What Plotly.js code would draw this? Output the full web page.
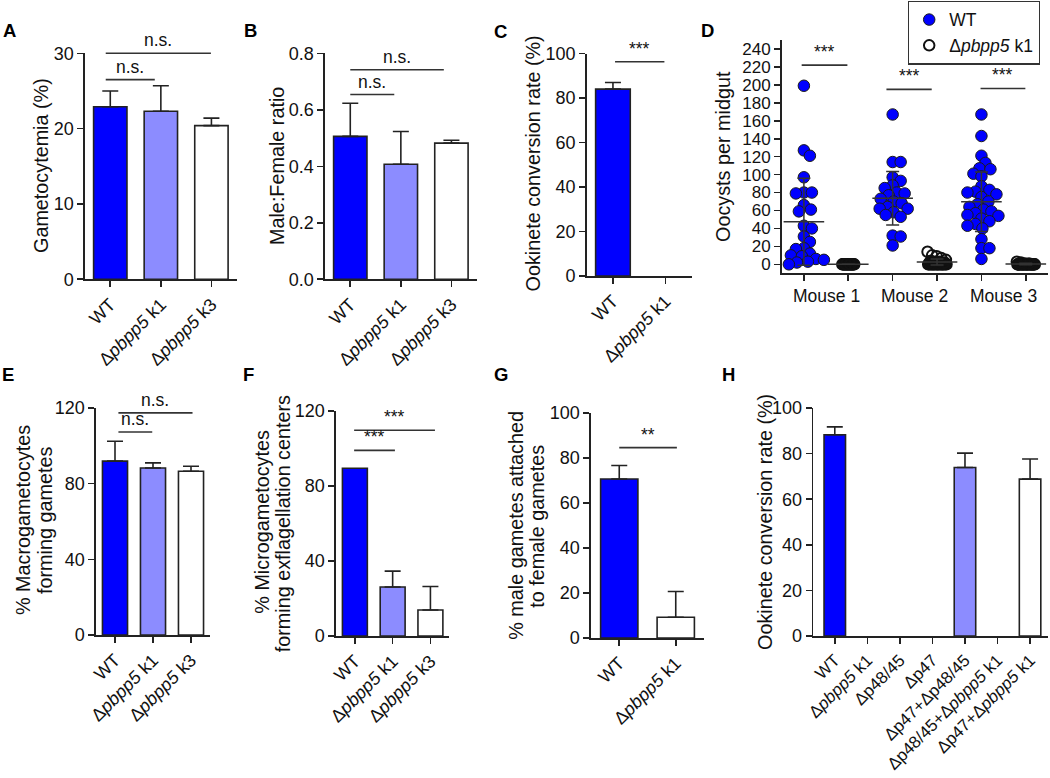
<!DOCTYPE html>
<html>
<head>
<meta charset="utf-8">
<script src="https://cdn.plot.ly/plotly-3.0.1.min.js"></script>
<style>html,body{margin:0;padding:0;background:#fff}#chart{width:1050px;height:778px}</style>
</head>
<body>
<div id="chart"></div>
<script>
// ---------------- DATA ----------------
const catsThree = ['WT', 'Δ<i>pbpp5</i> k1', 'Δ<i>pbpp5</i> k3'];
const catsTwo = ['WT', 'Δ<i>pbpp5</i> k1'];
const catsH = ['WT', 'Δ<i>pbpp5</i> k1', 'Δp48/45', 'Δp47', 'Δp47+Δp48/45', 'Δp48/45+Δ<i>pbpp5</i> k1', 'Δp47+Δ<i>pbpp5</i> k1'];

const gametocytemia = [22.9, 22.3, 20.4];
const gametocytemiaSD = [2.1, 3.4, 1.0];
const maleFemaleRatio = [0.506, 0.407, 0.482];
const maleFemaleRatioSD = [0.117, 0.116, 0.010];
const ookineteC = [84.0, 0];
const ookineteCSD = [3.0, null];
const macroForming = [91.9, 88.3, 86.6];
const macroFormingSD = [10.5, 2.7, 2.6];
const microExflag = [89.5, 26.1, 13.9];
const microExflagSD = [null, 8.5, 12.5];
const maleAttached = [70.7, 9.2];
const maleAttachedSD = [6.0, 11.5];
const ookineteH = [88.3, 0, 0, 0, 73.9, 0, 68.8];
const ookineteHSD = [3.4, null, null, null, 6.3, null, 8.8];

const mice = ['Mouse 1', 'Mouse 2', 'Mouse 3'];
const oocystWT1 = [199, 127, 121, 97, 80, 80, 79, 66, 61, 59, 43, 40, 31, 25, 18, 17, 12, 10, 9, 6, 5, 3, 2, 0, 0];
const oocystWT2 = [167, 114, 114, 97, 93, 88, 85, 80, 79, 77, 73, 70, 68, 64, 62, 62, 58, 55, 53, 32, 31, 21];
const oocystWT3 = [167, 143, 121, 113, 107, 106, 101, 98, 87, 83, 81, 80, 78, 75, 70, 67, 64, 61, 59, 57, 55, 54, 51, 48, 45, 43, 40, 28, 18, 18, 6];
const oocystKO1 = [0, 0, 0, 0, 0, 0, 0, 0, 0, 0, 0, 0, 0, 0, 0, 0, 0, 0, 0, 0];
const oocystKO2 = [14, 10, 9, 7, 5, 4, 3, 3, 2, 2, 1, 1, 1, 0, 0, 0, 0, 0, 0, 0, 0, 0, 0, 0, 0, 0, 0, 0, 0, 0];
const oocystKO3 = [3, 2, 1, 1, 0, 0, 0, 0, 0, 0, 0, 0, 0, 0, 0, 0, 0, 0, 0, 0, 0, 0, 0, 0, 0, 0, 0, 0, 0, 0, 0, 0];
const oocystMeanWT = [47.5, 73.6, 69.8];
const oocystSDWT = [48.5, 29.8, 33.2];
const oocystMeanKO = [0, 2.6, 0.3];
const oocystSDKO = [0, 3.4, 0.8];

// ---------------- STYLE / LAYOUT ----------------
const FONT = '"Liberation Sans", Arial, Helvetica, sans-serif';
const W = 1050, H = 778;
const BLUE = '#0000ff', LIGHT = '#8c8cff', WHITE = '#ffffff', INK = '#222222', TXT = '#111111';
const TICK = 18, TITLE = 19.8, LETTER = 18.5, SIGF = 17.5;
const px2x = p => p / W;
const px2y = p => 1 - p / H;

const AX = {
  showline: true, linecolor: INK, linewidth: 1.6, ticks: 'outside', ticklen: 6, tickwidth: 1.6,
  tickcolor: INK, showgrid: false, zeroline: false, automargin: false, fixedrange: true,
  tickfont: {family: FONT, size: TICK, color: TXT}
};

// panel geometry in pixels
const P = {
  A: {n: '',  x0: 85,    x1: 236.7,  yb: 279.3, yt: 53.3,  yr: [0, 30],   yt_v: [0, 10, 20, 30]},
  B: {n: '2', x0: 325,   x1: 476.7,  yb: 279.3, yt: 53.3,  yr: [0, 0.8],  yt_v: [0, 0.2, 0.4, 0.6, 0.8], fmt: '.1f'},
  C: {n: '3', x0: 586.7, x1: 691.7,  yb: 276,   yt: 53.5,  yr: [0, 100],  yt_v: [0, 20, 40, 60, 80, 100]},
  D: {n: '4', x0: 781.7, x1: 1048,   yb: 273.3, yt: 40,    yr: [-10, 250], yt_v: [0,20,40,60,80,100,120,140,160,180,200,220,240]},
  E: {n: '5', x0: 96,    x1: 210,    yb: 635,   yt: 408,   yr: [0, 120],  yt_v: [0, 40, 80, 120]},
  F: {n: '6', x0: 336,   x1: 449.3,  yb: 636,   yt: 411,   yr: [0, 120],  yt_v: [0, 40, 80, 120]},
  G: {n: '7', x0: 591,   x1: 704,    yb: 638,   yt: 413,   yr: [0, 100],  yt_v: [0, 20, 40, 60, 80, 100]},
  Hh:{n: '8', x0: 813.3, x1: 1048.3, yb: 636,   yt: 408,   yr: [0, 100],  yt_v: [0, 20, 40, 60, 80, 100], xfont: 17}
};

const layout = {
  width: W, height: H, autosize: false,
  margin: {l: 0, r: 0, t: 0, b: 0, pad: 0},
  paper_bgcolor: '#fff', plot_bgcolor: 'rgba(0,0,0,0)',
  font: {family: FONT, color: TXT},
  showlegend: true,
  legend: {
    x: px2x(908), y: px2y(0.5), xanchor: 'left', yanchor: 'top',
    bordercolor: '#333', borderwidth: 1.2, bgcolor: '#fff',
    font: {family: FONT, size: 17.5, color: TXT}, tracegroupgap: 0, itemwidth: 30
  },
  shapes: [], annotations: []
};
const traces = [];

function axes(p, labels, xrange) {
  const xn = 'xaxis' + p.n, yn = 'yaxis' + p.n;
  layout[xn] = Object.assign({}, AX, {
    domain: [px2x(p.x0), px2x(p.x1)], anchor: 'y' + p.n, range: xrange,
    tickmode: 'array', tickvals: labels.map((_, i) => i), ticktext: labels, tickangle: -45
  });
  if (p.xfont) layout[xn].tickfont = {family: FONT, size: p.xfont, color: TXT};
  layout[yn] = Object.assign({}, AX, {
    domain: [px2y(p.yb), px2y(p.yt)], anchor: 'x' + p.n, range: p.yr,
    tickmode: 'array', tickvals: p.yt_v
  });
  if (p.fmt) layout[yn].tickformat = p.fmt;
}

function bars(p, vals, sd, colors) {
  // missing SD -> NaN so that no error bar (and no cap) is drawn
  const up = sd.map(e => e == null ? NaN : e);
  traces.push({
    type: 'bar', xaxis: 'x' + p.n, yaxis: 'y' + p.n,
    x: vals.map((_, i) => i), y: vals, width: 0.66,
    marker: {color: colors, line: {color: INK, width: vals.map(v => v > 0 ? 1.6 : 0)}},
    error_y: {type: 'data', symmetric: false, array: up, arrayminus: up.map(e => isNaN(e) ? NaN : 0),
              color: INK, thickness: 1.6, width: 8},
    showlegend: false, hoverinfo: 'skip'
  });
}

function sig(p, x0, x1, v, label) {
  const f = (v - p.yr[0]) / (p.yr[1] - p.yr[0]);
  layout.shapes.push({type: 'line', xref: 'x' + p.n, yref: 'y' + p.n + ' domain',
    x0: x0, x1: x1, y0: f, y1: f, line: {color: '#333', width: 1.6}});
  layout.annotations.push({xref: 'x' + p.n, yref: 'y' + p.n + ' domain', x: (x0 + x1) / 2, y: f,
    xanchor: 'center', yanchor: 'bottom', yshift: 1, text: label, showarrow: false,
    font: {family: FONT, size: SIGF, color: TXT}});
}

function ytitle(cx, cy, text) {
  layout.annotations.push({xref: 'paper', yref: 'paper', x: px2x(cx), y: px2y(cy),
    xanchor: 'center', yanchor: 'middle', textangle: -90, text: text, showarrow: false,
    borderpad: 0, font: {family: FONT, size: TITLE, color: TXT}});
}
function letter(lx, ly, text) {
  layout.annotations.push({xref: 'paper', yref: 'paper', x: px2x(lx), y: px2y(ly),
    xanchor: 'left', yanchor: 'middle', text: '<b>' + text + '</b>', showarrow: false,
    font: {family: FONT, size: LETTER, color: '#000'}});
}

// ---- A ----
axes(P.A, catsThree, [-0.5, 2.5]);
bars(P.A, gametocytemia, gametocytemiaSD, [BLUE, LIGHT, WHITE]);
sig(P.A, -0.09, 1.99, 30, 'n.s.');
sig(P.A, -0.09, 0.88, 26.5, 'n.s.');
ytitle(41, 166, 'Gametocytemia (%)');
letter(1, 30, 'A');

// ---- B ----
axes(P.B, catsThree, [-0.5, 2.5]);
bars(P.B, maleFemaleRatio, maleFemaleRatioSD, [BLUE, LIGHT, WHITE]);
sig(P.B, 0, 1.85, 0.742, 'n.s.');
sig(P.B, 0, 0.87, 0.654, 'n.s.');
ytitle(277, 166, 'Male:Female ratio');
letter(242, 30, 'B');

// ---- C ----
axes(P.C, catsTwo, [-0.5, 1.5]);
bars(P.C, ookineteC, ookineteCSD, [BLUE, WHITE]);
sig(P.C, 0.04, 0.98, 96.3, '***');
ytitle(532.5, 164, 'Ookinete conversion rate (%)');
letter(492, 31, 'C');

// ---- D ----
(function () {
  const p = P.D;
  layout.xaxis4 = Object.assign({}, AX, {
    domain: [px2x(p.x0), px2x(p.x1)], anchor: 'y4', range: [-0.5, 5.5],
    tickmode: 'array', tickvals: [0, 1, 2, 3, 4, 5], ticktext: ['', '', '', '', '', '']
  });
  layout.yaxis4 = Object.assign({}, AX, {
    domain: [px2y(p.yb), px2y(p.yt)], anchor: 'x4', range: p.yr,
    tickmode: 'array', tickvals: p.yt_v, tickfont: {family: FONT, size: 17, color: TXT}
  });
  mice.forEach((m, i) => {
    layout.annotations.push({xref: 'x4', yref: 'y4 domain', x: 2 * i + 0.5, y: 0, yshift: -11,
      xanchor: 'center', yanchor: 'top', text: m, showarrow: false,
      font: {family: FONT, size: 17.5, color: TXT}});
  });
  const xpu = (p.x1 - p.x0) / 6;
  const ypu = (p.yb - p.yt) / (p.yr[1] - p.yr[0]);

  function swarm(vals, minD) {
    const order = vals.map((v, i) => i).sort((a, b) => vals[b] - vals[a]);
    const placed = [], off = new Array(vals.length).fill(0);
    order.forEach(i => {
      const yp = vals[i] * ypu;
      for (let k = 0; k < 500; k++) {
        const dx = k === 0 ? 0 : (k % 2 ? Math.ceil(k / 2) : -Math.ceil(k / 2));
        if (placed.every(q => Math.hypot(q.x - dx, q.y - yp) >= minD)) {
          placed.push({x: dx, y: yp}); off[i] = dx / xpu; break;
        }
      }
    });
    return off;
  }
  function spread(n, halfPx) {
    const out = [];
    for (let i = 0; i < n; i++) {
      const r = n > 1 ? ((i * 7) % n) / (n - 1) : 0.5;
      out.push((r - 0.5) * 2 * halfPx / xpu);
    }
    return out;
  }
  const wtGroups = [oocystWT1, oocystWT2, oocystWT3];
  const koGroups = [oocystKO1, oocystKO2, oocystKO3];
  const koHalf = [6, 9.5, 9];
  const wx = [], wy = [], kx = [], ky = [];
  wtGroups.forEach((g, gi) => {
    const o = swarm(g, 8);
    g.forEach((v, i) => { wx.push(2 * gi + o[i]); wy.push(v); });
  });
  koGroups.forEach((g, gi) => {
    const o = spread(g.length, koHalf[gi]);
    const idx = g.map((v, i) => i).sort((a, b) => g[a] - g[b]);
    idx.forEach(i => { kx.push(2 * gi + 1 + o[i]); ky.push(g[i]); });
  });
  traces.push({type: 'scatter', mode: 'markers', xaxis: 'x4', yaxis: 'y4', x: wx, y: wy, name: 'WT',
    marker: {symbol: 'circle', size: 11.5, color: BLUE, line: {color: '#1a1a1a', width: 1}},
    hoverinfo: 'skip', cliponaxis: false});
  traces.push({type: 'scatter', mode: 'markers', xaxis: 'x4', yaxis: 'y4', x: kx, y: ky, name: 'Δ<i>pbpp5</i> k1',
    marker: {symbol: 'circle-open', size: 10.5, color: '#111', line: {color: '#111', width: 2}},
    hoverinfo: 'skip', cliponaxis: false});
  const meanStyle = {symbol: 'line-ew', size: 29, color: '#333', line: {color: '#333', width: 1.5}};
  traces.push({type: 'scatter', mode: 'markers', xaxis: 'x4', yaxis: 'y4',
    x: mice.map((_, i) => 2 * i), y: oocystMeanWT, showlegend: false, hoverinfo: 'skip',
    marker: meanStyle,
    error_y: {type: 'data', symmetric: true, array: oocystSDWT, color: '#333', thickness: 1.5, width: 6.5}});
  traces.push({type: 'scatter', mode: 'markers', xaxis: 'x4', yaxis: 'y4',
    x: mice.map((_, i) => 2 * i + 1), y: oocystMeanKO, showlegend: false, hoverinfo: 'skip',
    marker: meanStyle,
    error_y: {type: 'data', symmetric: true, array: oocystSDKO, color: '#333', thickness: 1.5, width: 6.5}});
  sig(p, -0.05, 0.98, 222, '***');
  sig(p, 1.86, 2.88, 195, '***');
  sig(p, 3.98, 4.99, 196, '***');
  ytitle(723, 157, 'Oocysts per midgut');
  letter(699, 30.5, 'D');
})();

// ---- E ----
axes(P.E, catsThree, [-0.5, 2.5]);
bars(P.E, macroForming, macroFormingSD, [BLUE, LIGHT, WHITE]);
sig(P.E, 0.09, 2.04, 117.4, 'n.s.');
sig(P.E, 0.09, 0.98, 107.3, 'n.s.');
ytitle(23, 520, '% Macrogametocytes');
ytitle(45, 521, 'forming gametes');
letter(0, 375, 'E');

// ---- F ----
axes(P.F, catsThree, [-0.5, 2.5]);
bars(P.F, microExflag, microExflagSD, [BLUE, LIGHT, WHITE]);
sig(P.F, -0.02, 2.12, 109.7, '***');
sig(P.F, -0.02, 1.06, 99, '***');
ytitle(261.7, 522, '% Microgametocytes');
ytitle(283.3, 524, 'forming exflagellation centers');
letter(241, 375, 'F');

// ---- G ----
axes(P.G, catsTwo, [-0.5, 1.5]);
bars(P.G, maleAttached, maleAttachedSD, [BLUE, WHITE]);
sig(P.G, 0, 1.02, 84.6, '**');
ytitle(515.8, 525, '% male gametes attached');
ytitle(536.7, 526, 'to female gametes');
letter(492, 375, 'G');

// ---- H ----
axes(P.Hh, catsH, [-0.66, 6.56]);
bars(P.Hh, ookineteH, ookineteHSD, [BLUE, WHITE, WHITE, WHITE, LIGHT, WHITE, WHITE]);
ytitle(765, 522, 'Ookinete conversion rate (%)');
letter(720, 375, 'H');

Plotly.newPlot('chart', traces, layout, {staticPlot: true, displayModeBar: false});
</script>
</body>
</html>
